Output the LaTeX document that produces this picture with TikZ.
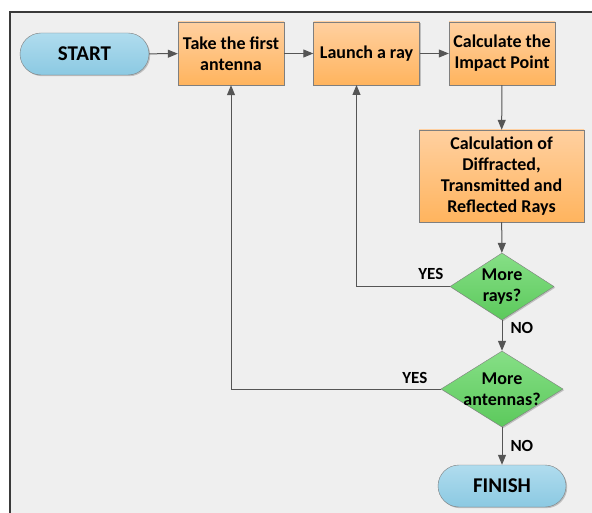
\documentclass[tikz,border=0pt]{standalone}
\usepackage{fontspec}
\setmainfont{Carlito}
\usetikzlibrary{arrows.meta, shapes.geometric, shadows}

\definecolor{panelgrey}{HTML}{EFEFEF}
\definecolor{frameline}{HTML}{3A3A3A}
\definecolor{boxtop}{HTML}{FFD0A0}
\definecolor{boxbottom}{HTML}{FFB45E}
\definecolor{pilltop}{HTML}{B0DCEE}
\definecolor{pillbottom}{HTML}{8BC9E2}
\definecolor{diatop}{HTML}{86DF86}
\definecolor{diabottom}{HTML}{5CC95C}
\definecolor{edgegrey}{HTML}{7F7F7F}
\definecolor{linegrey}{HTML}{555555}

\begin{document}
\begin{tikzpicture}[x=1pt, y=-1pt, font=\bfseries\fontsize{18}{21}\selectfont]

\useasboundingbox (0,0) rectangle (592,513);
\begin{scope}
    \clip (0,0) rectangle (592,513);
    \fill[white] (0,0) rectangle (592,513);
    \draw[frameline, line width=2pt, fill=panelgrey] (9.5,12) rectangle (620,540);
\end{scope}

\begin{scope}[every node/.style={draw=edgegrey, align=center,
                drop shadow={shadow xshift=1.2pt, shadow yshift=-1.2pt, fill=black, opacity=0.2}},
              proc/.style={rectangle, top color=boxtop, bottom color=boxbottom,
                minimum width=106pt, minimum height=63pt, inner sep=2pt},
              term/.style={rectangle, rounded corners=21pt, top color=pilltop, bottom color=pillbottom,
                minimum width=129pt, minimum height=42pt, font=\bfseries\fontsize{21}{24}\selectfont},
              test/.style={diamond, top color=diatop, bottom color=diabottom,
                inner xsep=-12pt, inner ysep=0pt, shape aspect=1.6}]
    \node (start) at (84.5, 54) [term] {START};
    \node (take) at (231, 53.5) [proc] {Take the first\\antenna};
    \node (launch) at (366.5, 53.5) [proc] {Launch a ray};
    \node (impact) at (502, 53.5) [proc] {Calculate the\\Impact Point};

    \node (scatter) at (501.5, 176) [proc, minimum width=165pt, minimum height=92pt]
        {Calculation of\\Diffracted,\\Transmitted and\\Reflected Rays};

    \node (rays) at (502, 286.5) [test, minimum width=104pt, minimum height=67pt] {More\\rays?};
    \node (antennas) at (502, 389) [test, minimum width=122pt, minimum height=76pt] {More\\antennas?};

    \node (finish) at (502, 486) [term, minimum width=128pt] {FINISH};
\end{scope}

\coordinate (launchin) at (356.5, 85);

\begin{scope}[>={Triangle[length=10pt, width=8pt]},
              every edge/.style={draw=linegrey, line width=1pt},
              lbl/.style={inner sep=0pt, text=black, font=\bfseries\fontsize{17}{20}\selectfont}]

    \path [->] (start) edge (take);
    \path [->] (take) edge (launch);
    \path [->] (launch) edge (impact);
    \path [->] (impact) edge (scatter);
    \path [->] (scatter) edge (rays);

    \draw [->, linegrey, line width=1pt] (rays.west) -| (launchin)
        node [lbl, pos=0, anchor=south east, xshift=-6pt, yshift=6pt] {YES};
    \path [->] (rays) edge node [lbl, pos=0.25, anchor=west, xshift=8pt] {NO} (antennas);

    \draw [->, linegrey, line width=1pt] (antennas.west) -| (take.south)
        node [lbl, pos=0, anchor=south east, xshift=-13pt, yshift=5pt] {YES};
    \path [->] (antennas) edge node [lbl, midway, anchor=west, xshift=8pt] {NO} (finish);
\end{scope}
\end{tikzpicture}
\end{document}
